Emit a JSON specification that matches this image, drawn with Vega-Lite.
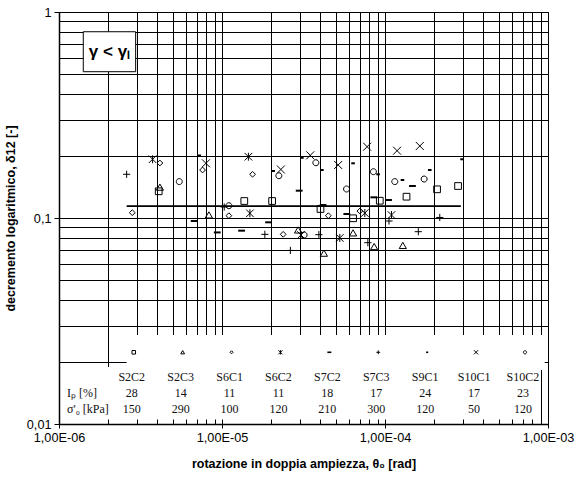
{
  "$schema": "https://vega.github.io/schema/vega-lite/v6.json",
  "width": 489,
  "height": 412,
  "autosize": "none",
  "padding": {"left": 59, "top": 12, "right": 35, "bottom": 56},
  "config": {"view": {"stroke": "#000", "strokeWidth": 1}, "font": "Liberation Sans"},
  "datasets": {
    "points": [
      {"sample": "S2C2", "theta": 4.09e-6, "delta": 0.1348},
      {"sample": "S2C2", "theta": 1.37e-5, "delta": 0.1209},
      {"sample": "S2C2", "theta": 2.03e-5, "delta": 0.1209},
      {"sample": "S2C2", "theta": 4.02e-5, "delta": 0.1106},
      {"sample": "S2C2", "theta": 6.37e-5, "delta": 0.0997},
      {"sample": "S2C2", "theta": 9.29e-5, "delta": 0.1213},
      {"sample": "S2C2", "theta": 1.355e-4, "delta": 0.1269},
      {"sample": "S2C2", "theta": 2.086e-4, "delta": 0.1378},
      {"sample": "S2C2", "theta": 2.807e-4, "delta": 0.143},
      {"sample": "S2C3", "theta": 4.16e-6, "delta": 0.141},
      {"sample": "S2C3", "theta": 8.31e-6, "delta": 0.1034},
      {"sample": "S2C3", "theta": 2.93e-5, "delta": 0.0874},
      {"sample": "S2C3", "theta": 4.22e-5, "delta": 0.0674},
      {"sample": "S2C3", "theta": 6.37e-5, "delta": 0.0846},
      {"sample": "S2C3", "theta": 8.58e-5, "delta": 0.0726},
      {"sample": "S2C3", "theta": 1.286e-4, "delta": 0.0735},
      {"sample": "S6C1", "theta": 2.815e-6, "delta": 0.1061},
      {"sample": "S6C1", "theta": 4.16e-6, "delta": 0.1849},
      {"sample": "S6C1", "theta": 7.6e-6, "delta": 0.171},
      {"sample": "S6C1", "theta": 1.102e-5, "delta": 0.1026},
      {"sample": "S6C1", "theta": 1.54e-5, "delta": 0.163},
      {"sample": "S6C1", "theta": 2.373e-5, "delta": 0.0833},
      {"sample": "S6C1", "theta": 4.49e-5, "delta": 0.1026},
      {"sample": "S6C1", "theta": 7.01e-5, "delta": 0.1081},
      {"sample": "S6C2", "theta": 3.75e-6, "delta": 0.1928},
      {"sample": "S6C2", "theta": 1.452e-5, "delta": 0.1984},
      {"sample": "S6C2", "theta": 1.483e-5, "delta": 0.1054},
      {"sample": "S6C2", "theta": 3.05e-5, "delta": 0.0827},
      {"sample": "S6C2", "theta": 5.28e-5, "delta": 0.08},
      {"sample": "S6C2", "theta": 1.096e-4, "delta": 0.1034},
      {"sample": "S6C2", "theta": 7.52e-5, "delta": 0.1057},
      {"sample": "S7C2", "theta": 6.75e-6, "delta": 0.0967},
      {"sample": "S7C2", "theta": 9.35e-6, "delta": 0.0851},
      {"sample": "S7C2", "theta": 1.319e-5, "delta": 0.0868},
      {"sample": "S7C2", "theta": 1.931e-5, "delta": 0.0953},
      {"sample": "S7C2", "theta": 2.975e-5, "delta": 0.1357},
      {"sample": "S7C2", "theta": 4.17e-5, "delta": 0.1156},
      {"sample": "S7C2", "theta": 5.83e-5, "delta": 0.1046},
      {"sample": "S7C2", "theta": 8.54e-5, "delta": 0.126},
      {"sample": "S7C2", "theta": 1.051e-4, "delta": 0.1223},
      {"sample": "S7C2", "theta": 1.474e-4, "delta": 0.143},
      {"sample": "S7C3", "theta": 2.6e-6, "delta": 0.163},
      {"sample": "S7C3", "theta": 1.032e-5, "delta": 0.1131},
      {"sample": "S7C3", "theta": 1.832e-5, "delta": 0.0833},
      {"sample": "S7C3", "theta": 2.627e-5, "delta": 0.0696},
      {"sample": "S7C3", "theta": 3.93e-5, "delta": 0.083},
      {"sample": "S7C3", "theta": 7.85e-5, "delta": 0.0759},
      {"sample": "S7C3", "theta": 1.058e-4, "delta": 0.0967},
      {"sample": "S7C3", "theta": 1.601e-4, "delta": 0.0858},
      {"sample": "S7C3", "theta": 2.168e-4, "delta": 0.1006},
      {"sample": "S9C1", "theta": 7.25e-6, "delta": 0.2011},
      {"sample": "S9C1", "theta": 2.06e-5, "delta": 0.1691},
      {"sample": "S9C1", "theta": 3.09e-5, "delta": 0.196},
      {"sample": "S9C1", "theta": 4.1e-5, "delta": 0.171},
      {"sample": "S9C1", "theta": 6.37e-5, "delta": 0.1843},
      {"sample": "S9C1", "theta": 9.07e-5, "delta": 0.163},
      {"sample": "S9C1", "theta": 1.28e-4, "delta": 0.1529},
      {"sample": "S9C1", "theta": 1.882e-4, "delta": 0.171},
      {"sample": "S9C1", "theta": 2.97e-4, "delta": 0.1928},
      {"sample": "S10C1", "theta": 7.97e-6, "delta": 0.1843},
      {"sample": "S10C1", "theta": 2.297e-5, "delta": 0.172},
      {"sample": "S10C1", "theta": 3.48e-5, "delta": 0.2015},
      {"sample": "S10C1", "theta": 5.16e-5, "delta": 0.1809},
      {"sample": "S10C1", "theta": 7.77e-5, "delta": 0.2219},
      {"sample": "S10C1", "theta": 1.186e-4, "delta": 0.2122},
      {"sample": "S10C1", "theta": 1.635e-4, "delta": 0.2237},
      {"sample": "S10C2", "theta": 5.47e-6, "delta": 0.1502},
      {"sample": "S10C2", "theta": 1.102e-5, "delta": 0.1147},
      {"sample": "S10C2", "theta": 2.233e-5, "delta": 0.1604},
      {"sample": "S10C2", "theta": 3.765e-5, "delta": 0.1855},
      {"sample": "S10C2", "theta": 5.81e-5, "delta": 0.1383},
      {"sample": "S10C2", "theta": 3.19e-5, "delta": 0.0827},
      {"sample": "S10C2", "theta": 8.49e-5, "delta": 0.1678},
      {"sample": "S10C2", "theta": 1.148e-4, "delta": 0.1502},
      {"sample": "S10C2", "theta": 1.738e-4, "delta": 0.1546}
    ],
    "samples": [
      {"sample": "S2C2", "Ip": 28, "sigma": 150},
      {"sample": "S2C3", "Ip": 14, "sigma": 290},
      {"sample": "S6C1", "Ip": 11, "sigma": 100},
      {"sample": "S6C2", "Ip": 11, "sigma": 120},
      {"sample": "S7C2", "Ip": 18, "sigma": 210},
      {"sample": "S7C3", "Ip": 17, "sigma": 300},
      {"sample": "S9C1", "Ip": 24, "sigma": 120},
      {"sample": "S10C1", "Ip": 17, "sigma": 50},
      {"sample": "S10C2", "Ip": 23, "sigma": 120}
    ],
    "mean": [{"from": 2.6e-6, "to": 2.92e-4, "delta": 0.1143}]
  },
  "resolve": {"scale": {"x": "independent"}, "axis": {"x": "independent", "y": "independent"}},
  "layer": [
    {
      "resolve": {"axis": {"x": "independent", "y": "independent"}},
      "layer": [
        {
          "data": {"values": [{}]},
          "mark": {"type": "rect", "fill": "#fff"},
          "encoding": {
            "x": {"datum": 2.6e-6, "type": "quantitative", "axis": {"orient": "bottom", "values": [1e-6,2e-6,3e-6,4e-6,5e-6,6e-6,7e-6,8e-6,9e-6,1e-5,2e-5,3e-5,4e-5,5e-5,6e-5,7e-5,8e-5,9e-5,1e-4,2e-4,3e-4,4e-4,5e-4,6e-4,7e-4,8e-4,9e-4,1e-3], "grid": true, "gridColor": "#000", "gridOpacity": 1, "gridWidth": 1, "ticks": false, "labels": false, "domain": false, "title": null, "zindex": 0}},
            "x2": {"datum": 9.546e-4},
            "y": {"datum": 0.02704, "type": "quantitative", "axis": {"orient": "left", "values": [0.01,0.02,0.03,0.04,0.05,0.06,0.07,0.08,0.09,0.1,0.2,0.3,0.4,0.5,0.6,0.7,0.8,0.9,1], "grid": true, "gridColor": "#000", "gridOpacity": 1, "gridWidth": 1, "ticks": false, "labels": false, "domain": false, "title": null, "zindex": 0}},
            "y2": {"datum": 0.01829}
          }
        },
        {
          "data": {"values": [{}]},
          "mark": {"type": "rect", "fill": "#fff"},
          "encoding": {
            "x": {"datum": 1e-6, "type": "quantitative", "axis": {"orient": "bottom", "values": [1e-6,2e-6,3e-6,4e-6,5e-6,6e-6,7e-6,8e-6,9e-6,1e-5,2e-5,3e-5,4e-5,5e-5,6e-5,7e-5,8e-5,9e-5,1e-4,2e-4,3e-4,4e-4,5e-4,6e-4,7e-4,8e-4,9e-4,1e-3], "grid": false, "ticks": true, "tickSize": -5, "tickColor": "#000", "tickWidth": 1, "labels": false, "domain": false, "title": null, "zindex": 1}},
            "x2": {"datum": 8.89e-4},
            "y": {"datum": 0.01891, "type": "quantitative", "axis": null},
            "y2": {"datum": 0.01}
          }
        },
        {
          "data": {"values": [{}]},
          "mark": {"type": "rect", "fill": "#fff", "stroke": "#000", "strokeWidth": 1},
          "encoding": {
            "x": {"datum": 1.409e-6, "type": "quantitative", "axis": null},
            "x2": {"datum": 2.953e-6},
            "y": {"datum": 0.802, "type": "quantitative", "axis": null},
            "y2": {"datum": 0.513}
          }
        },
        {
          "data": {"values": [{}]},
          "mark": {"type": "text", "text": "γ < γₗ", "font": "Liberation Sans", "fontSize": 17, "fontWeight": "bold", "color": "#000", "align": "center", "baseline": "middle"},
          "encoding": {
            "x": {"datum": 2.04e-6, "type": "quantitative", "axis": null},
            "y": {"datum": 0.642, "type": "quantitative", "axis": null}
          }
        },
        {
          "data": {"name": "mean"},
          "mark": {"type": "rule", "color": "#000", "strokeWidth": 1.7},
          "encoding": {
            "x": {"field": "from", "type": "quantitative", "axis": null},
            "x2": {"field": "to"},
            "y": {"field": "delta", "type": "quantitative", "axis": null}
          }
        },
        {
          "data": {"name": "points"},
          "transform": [{"filter": "datum.sample != 'S7C2' && datum.sample != 'S9C1'"}],
          "mark": {"type": "point", "filled": false, "color": "#000", "strokeWidth": 1, "size": 64, "opacity": 1},
          "encoding": {
            "x": {"field": "theta", "type": "quantitative", "scale": {"type": "log", "domain": [1e-6, 1e-3]},
              "axis": {"orient": "bottom", "values": [1e-6, 1e-5, 1e-4, 1e-3], "grid": false, "ticks": true, "tickSize": 4, "tickColor": "#000", "labelExpr": "'1,00E-0' + round(-log(datum.value)/LN10)", "labelFont": "Liberation Sans", "labelFontSize": 12.7, "labelColor": "#000", "labelPadding": 3, "labelFlush": false, "labelOverlap": false, "domain": true, "domainColor": "#000", "domainWidth": 1.5, "title": "rotazione in doppia ampiezza, θ₀ [rad]", "titleFont": "Liberation Sans", "titleFontSize": 12.5, "titleFontWeight": "bold", "titleColor": "#000", "titlePadding": 14, "zindex": 1}},
            "y": {"field": "delta", "type": "quantitative", "scale": {"type": "log", "domain": [0.01, 1]},
              "axis": {"orient": "left", "values": [0.01, 0.1, 1], "grid": false, "ticks": true, "tickSize": 5, "tickColor": "#000", "labelExpr": "datum.value >= 1 ? '1' : (datum.value >= 0.1 ? '0,1' : '0,01')", "labelFont": "Liberation Sans", "labelFontSize": 12.7, "labelColor": "#000", "labelPadding": 3, "labelFlush": false, "labelOverlap": false, "domain": true, "domainColor": "#000", "domainWidth": 1.5, "title": "decremento logaritmico, δ12 [-]", "titleFont": "Liberation Sans", "titleFontSize": 12.5, "titleFontWeight": "bold", "titleColor": "#000", "titlePadding": 9, "zindex": 1}},
            "shape": {"field": "sample", "type": "nominal", "legend": null,
              "scale": {"domain": ["S2C2","S2C3","S6C1","S6C2","S7C2","S7C3","S9C1","S10C1","S10C2"],
                "range": ["M-0.84,-0.84H0.84V0.84H-0.84Z", "M0,-0.8L0.9,0.75H-0.9Z", "M0,-0.72L0.72,0L0,0.72L-0.72,0Z", "M-0.95,-0.95L0.95,0.95M0.95,-0.95L-0.95,0.95M0,-1L0,1", "M-0.85,0H0.85", "M-0.9,0H0.9M0,-0.9V0.9", "M-0.45,0H0.45", "M-1,-1L1,1M1,-1L-1,1", "M0.75,0A0.75,0.75 0 1,1 -0.75,0A0.75,0.75 0 1,1 0.75,0Z"]}}
          }
        },
        {
          "data": {"name": "points"},
          "transform": [{"filter": "datum.sample == 'S7C2' || datum.sample == 'S9C1'"}],
          "mark": {"type": "point", "filled": false, "color": "#000", "strokeWidth": 2, "size": 64, "opacity": 1},
          "encoding": {
            "x": {"field": "theta", "type": "quantitative", "axis": null},
            "y": {"field": "delta", "type": "quantitative", "axis": null},
            "shape": {"field": "sample", "type": "nominal", "legend": null}
          }
        },
        {
          "data": {"values": [{}]},
          "mark": {"type": "text", "text": "Iₚ [%]", "font": "Liberation Serif", "fontSize": 12, "color": "#111", "align": "left", "baseline": "middle"},
          "encoding": {
            "x": {"datum": 1.12e-6, "type": "quantitative", "axis": null},
            "y": {"datum": 0.01414, "type": "quantitative", "axis": null}
          }
        },
        {
          "data": {"values": [{}]},
          "mark": {"type": "text", "text": "σ'₀ [kPa]", "font": "Liberation Serif", "fontSize": 12, "color": "#111", "align": "left", "baseline": "middle"},
          "encoding": {
            "x": {"datum": 1.12e-6, "type": "quantitative", "axis": null},
            "y": {"datum": 0.01187, "type": "quantitative", "axis": null}
          }
        }
      ]
    },
    {
      "data": {"name": "samples"},
      "encoding": {
        "x": {"field": "sample", "type": "nominal", "axis": null,
          "scale": {"type": "point", "domain": ["S2C2","S2C3","S6C1","S6C2","S7C2","S7C3","S9C1","S10C1","S10C2"], "padding": 1.2276, "align": 0.744}}
      },
      "layer": [
        {
          "transform": [{"filter": "datum.sample != 'S7C2' && datum.sample != 'S9C1'"}],
          "mark": {"type": "point", "filled": false, "color": "#000", "strokeWidth": 1, "size": 18, "opacity": 1, "xOffset": 2},
          "encoding": {
            "y": {"datum": 0.02229, "type": "quantitative", "axis": null},
            "shape": {"field": "sample", "type": "nominal", "legend": null}
          }
        },
        {
          "transform": [{"filter": "datum.sample == 'S7C2' || datum.sample == 'S9C1'"}],
          "mark": {"type": "point", "filled": false, "color": "#000", "strokeWidth": 1.6, "size": 22, "opacity": 1, "xOffset": 2},
          "encoding": {
            "y": {"datum": 0.02229, "type": "quantitative", "axis": null},
            "shape": {"field": "sample", "type": "nominal", "legend": null}
          }
        },
        {
          "mark": {"type": "text", "font": "Liberation Serif", "fontSize": 12, "color": "#111", "align": "center", "baseline": "middle"},
          "encoding": {
            "y": {"datum": 0.01697, "type": "quantitative", "axis": null},
            "text": {"field": "sample"}
          }
        },
        {
          "mark": {"type": "text", "font": "Liberation Serif", "fontSize": 12, "color": "#111", "align": "center", "baseline": "middle"},
          "encoding": {
            "y": {"datum": 0.01414, "type": "quantitative", "axis": null},
            "text": {"field": "Ip"}
          }
        },
        {
          "mark": {"type": "text", "font": "Liberation Serif", "fontSize": 12, "color": "#111", "align": "center", "baseline": "middle"},
          "encoding": {
            "y": {"datum": 0.01187, "type": "quantitative", "axis": null},
            "text": {"field": "sigma"}
          }
        }
      ]
    }
  ]
}
